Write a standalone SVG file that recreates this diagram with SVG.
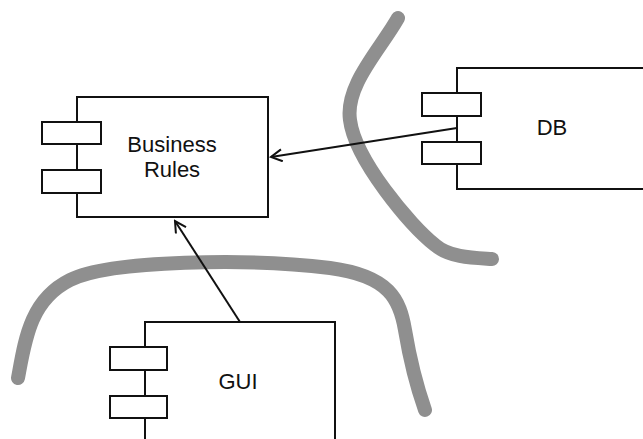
<svg xmlns="http://www.w3.org/2000/svg" width="643" height="439" viewBox="0 0 643 439">
<style>
.box{fill:#fff;stroke:#111;stroke-width:2}
.port{fill:#fff;stroke:#111;stroke-width:2}
.lbl{font-family:"Liberation Sans",Arial,sans-serif;font-size:22px;fill:#111;text-anchor:middle}
.wall{fill:none;stroke:#8f8f8f;stroke-width:14;stroke-linecap:round;stroke-linejoin:round}
.conn{fill:none;stroke:#111;stroke-width:2}
</style>
<defs>
<marker id="open" markerWidth="14" markerHeight="14" refX="12" refY="7" orient="auto" markerUnits="userSpaceOnUse">
<path d="M1,1 L12,7 L1,13" fill="none" stroke="#111" stroke-width="2"/>
</marker>
</defs>
<rect width="643" height="439" fill="#fff"/>
<g id="boundaries">
<path class="wall" d="M398,18 C380,50 345,85 350,120 C355,160 410,225 435,245 C450,258 475,258 492,259"/>
<path class="wall" d="M18,378 C25,340 30,300 70,280 C110,260 250,258 330,268 C390,276 400,300 405,330 C410,360 418,390 425,410"/>
</g>
<g id="business-rules">
<rect class="box" x="77" y="97" width="191" height="120"/>
<rect class="port" x="42" y="122" width="59" height="22"/>
<rect class="port" x="42" y="170" width="59" height="23"/>
<text class="lbl" x="172" y="152">Business</text>
<text class="lbl" x="172" y="177">Rules</text>
</g>
<g id="db">
<rect class="box" x="457" y="68" width="200" height="121"/>
<rect class="port" x="422" y="93" width="59" height="23"/>
<rect class="port" x="422" y="142" width="59" height="22"/>
<text class="lbl" x="552" y="135">DB</text>
</g>
<g id="gui">
<rect class="box" x="145" y="322" width="190" height="130"/>
<rect class="port" x="110" y="347" width="57" height="23"/>
<rect class="port" x="110" y="396" width="57" height="22"/>
<text class="lbl" x="238" y="389">GUI</text>
</g>
<g id="connectors">
<line class="conn" x1="457" y1="128" x2="271" y2="157" marker-end="url(#open)"/>
<line class="conn" x1="240" y1="322" x2="175" y2="221" marker-end="url(#open)"/>
</g>
</svg>
